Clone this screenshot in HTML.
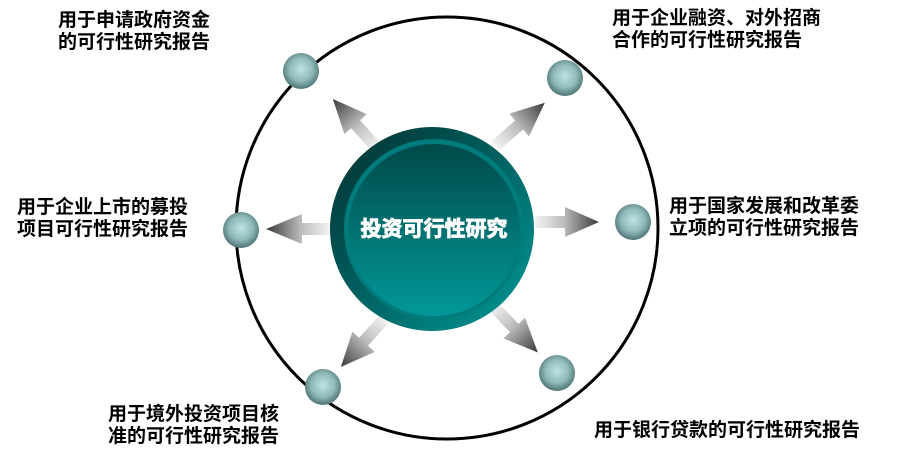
<!DOCTYPE html>
<html><head><meta charset="utf-8"><style>
body{margin:0;width:915px;height:461px;background:#fff;overflow:hidden;position:relative;font-family:"Liberation Sans","Noto Sans CJK SC",sans-serif}
.t{position:absolute;font-size:19px;font-weight:bold;line-height:22px;color:#000;white-space:nowrap;letter-spacing:0px}
</style></head><body>
<svg width="915" height="461" style="position:absolute;left:0;top:0">
<defs>
<linearGradient id="ag" x1="0" x2="1" y1="0" y2="0">
<stop offset="0" stop-color="#f4f4f4"/><stop offset="0.45" stop-color="#bcbcbc"/><stop offset="1" stop-color="#3a3a3a"/></linearGradient>
<radialGradient id="bg" cx="0.5" cy="0.45" r="0.55">
<stop offset="0" stop-color="#bfe4e4"/><stop offset="0.6" stop-color="#8fb8b8"/><stop offset="1" stop-color="#4e7474"/></radialGradient>
<linearGradient id="outer" x1="0" y1="0" x2="1" y2="1">
<stop offset="0" stop-color="#022e2e"/><stop offset="0.5" stop-color="#016262"/><stop offset="1" stop-color="#029a9a"/></linearGradient>
<linearGradient id="inner" x1="0" y1="0" x2="0" y2="1">
<stop offset="0" stop-color="#014a4a"/><stop offset="1" stop-color="#029898"/></linearGradient>
</defs>
<circle cx="447" cy="228" r="211" fill="none" stroke="#000" stroke-width="3"/>
<g id="arrows">
<g transform="translate(535,222)"><polygon points="0,-6 30,-6 30,-15 64,0 30,15 30,6 0,6" fill="url(#ag)"/></g>
<g transform="translate(330,229) rotate(180)"><polygon points="0,-6 28,-6 28,-15 64,0 28,15 28,6 0,6" fill="url(#ag)"/></g>
<g transform="translate(377,148) rotate(-132)"><polygon points="0,-6 32,-6 32,-15 66,0 32,15 32,6 0,6" fill="url(#ag)"/></g>
<g transform="translate(495,146) rotate(-41)"><polygon points="0,-6 32,-6 32,-15 66,0 32,15 32,6 0,6" fill="url(#ag)"/></g>
<g transform="translate(385,318) rotate(132)"><polygon points="0,-6 32,-6 32,-15 66,0 32,15 32,6 0,6" fill="url(#ag)"/></g>
<g transform="translate(492,305) rotate(46)"><polygon points="0,-6 32,-6 32,-15 66,0 32,15 32,6 0,6" fill="url(#ag)"/></g>
</g>
<circle cx="432" cy="229" r="102" fill="url(#outer)"/>
<circle cx="434" cy="229" r="90" fill="#017c7c"/>
<circle cx="434" cy="230" r="86" fill="url(#inner)"/>
<text x="434" y="236" text-anchor="middle" font-size="21" font-weight="bold" fill="#fff" stroke="#fff" stroke-width="0.9" style="font-family:'Liberation Sans','Noto Sans CJK SC',sans-serif">投资可行性研究</text>
<circle cx="301" cy="71" r="18" fill="url(#bg)"/>
<circle cx="565" cy="78" r="18" fill="url(#bg)"/>
<circle cx="633" cy="222" r="18" fill="url(#bg)"/>
<circle cx="241" cy="230" r="18" fill="url(#bg)"/>
<circle cx="323" cy="387" r="18" fill="url(#bg)"/>
<circle cx="557" cy="373" r="18" fill="url(#bg)"/>
</svg>
<div class="t" style="left:58px;top:10px">用于申请政府资金<br>的可行性研究报告</div>
<div class="t" style="left:612px;top:8px">用于企业融资、对外招商<br>合作的可行性研究报告</div>
<div class="t" style="left:669px;top:196px">用于国家发展和改革委<br>立项的可行性研究报告</div>
<div class="t" style="left:17px;top:197px">用于企业上市的募投<br>项目可行性研究报告</div>
<div class="t" style="left:108px;top:404px">用于境外投资项目核<br>准的可行性研究报告</div>
<div class="t" style="left:594px;top:420px">用于银行贷款的可行性研究报告</div>
</body></html>
